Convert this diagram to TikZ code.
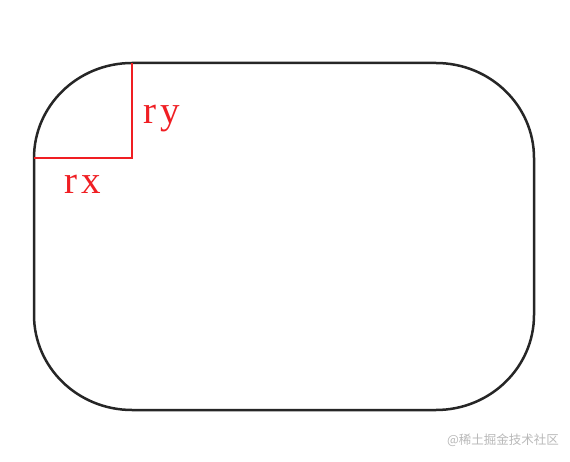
\documentclass[tikz,border=0pt]{standalone}
\usepackage{fontspec}
\setmainfont{Liberation Serif}
\newfontfamily\cjk{Noto Sans CJK SC}
\definecolor{rred}{RGB}{240,30,35}
\definecolor{wmgray}{RGB}{185,185,185}
\tikzset{
  outline/.style={draw=black!85, line width=2.5pt},
  radius/.style={draw=rred, line width=1.8pt},
  lbl/.style={text=rred, font=\fontsize{39}{39}\selectfont, inner sep=0pt, anchor=base},
  wm/.style={text=wmgray, font=\cjk\fontsize{12.5}{12.5}\selectfont, inner sep=0pt}
}
\begin{document}
\begin{tikzpicture}[x=1pt,y=-1pt]
\useasboundingbox (0,0) rectangle (570,462);
\fill[white] (0,0) rectangle (570,462);
% rounded rectangle with elliptical corners rx=98, ry=95
\draw[outline] (132,63) -- (436,63)
  arc[start angle=90, end angle=0, x radius=98, y radius=-95]
  -- (534,315)
  arc[start angle=0, end angle=-90, x radius=98, y radius=-95]
  -- (132,410)
  arc[start angle=-90, end angle=-180, x radius=98, y radius=-95]
  -- (34,158)
  arc[start angle=180, end angle=90, x radius=98, y radius=-95]
  -- cycle;
\coordinate (top) at (132,63);
\coordinate (ctr) at (132,158);
\coordinate (left) at (34,158);
\draw[radius] (top) -- (ctr) -- (left);
\node[lbl] (ry) at (162,124) {r\kern4pt y};
\node[lbl] (rx) at (83,194) {r\kern4pt x};
\node[wm] (wmark) at (503,440) {@稀土掘金技术社区};
\end{tikzpicture}
\end{document}
